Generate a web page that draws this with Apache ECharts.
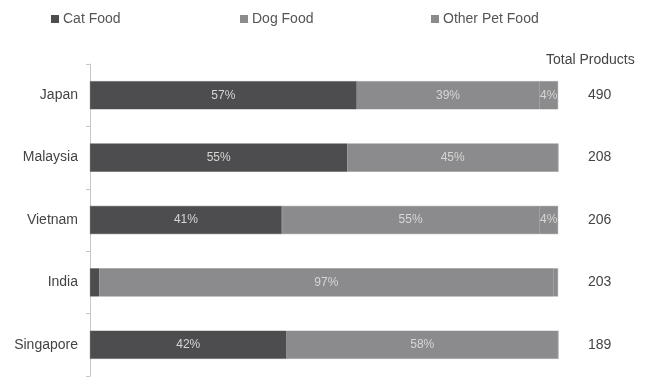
<!DOCTYPE html>
<html><head><meta charset="utf-8">
<script src="https://cdn.jsdelivr.net/npm/echarts@6/dist/echarts.min.js"></script>
<style>html,body{margin:0;padding:0;background:#fff}#c{width:648px;height:377px}</style>
</head><body><div id="c"></div>
<script>
const countries = ['Japan','Malaysia','Vietnam','India','Singapore'];
const catFood = [57,55,41,2,42];
const dogFood = [39,45,55,97,58];
const otherFood = [4,0,4,1,0];
const totals = ['490','208','206','203','189'];
const seriesNames = ['Cat Food','Dog Food','Other Pet Food'];
const colors = ['#4d4d4f','#8b8b8d','#8b8b8d'];
const font = 'Liberation Sans, Arial, sans-serif';

const chart = echarts.init(document.getElementById('c'));
function mk(name, data, color, minLabel) {
  return {
    name, type: 'bar', stack: 't', data, barCategoryGap: '55%',
    itemStyle: {color, borderColor: color, borderWidth: 0.5},
    label: {
      show: true, position: 'inside', color: '#d6d6d6', fontSize: 12, fontFamily: font,
      formatter: p => (p.value >= minLabel ? p.value + '%' : '')
    },
    emphasis: {disabled: true}
  };
}
const legendBase = {top: 7, itemWidth: 6, itemHeight: 6, icon: 'rect',
  textStyle: {color: '#555', fontSize: 14, fontFamily: font}};
chart.setOption({
  animation: false,
  legend: [
    Object.assign({left: 46, data: [seriesNames[0]]}, legendBase),
    Object.assign({left: 235, data: [seriesNames[1]]}, legendBase),
    Object.assign({left: 426, data: [seriesNames[2]]}, legendBase)
  ],
  grid: {left: 90, right: 90, top: 64, bottom: 1},
  xAxis: {type: 'value', min: 0, max: 100, show: false},
  yAxis: [
    {type: 'category', data: countries, inverse: true,
     axisLine: {show: true, lineStyle: {color: '#c8c8c8'}},
     axisTick: {show: true, length: 4, lineStyle: {color: '#c8c8c8'}},
     axisLabel: {color: '#444', fontSize: 14, fontFamily: font, margin: 12}},
    {type: 'category', data: totals, inverse: true, position: 'right',
     axisLine: {show: false}, axisTick: {show: false},
     axisLabel: {color: '#444', fontSize: 14, fontFamily: font, margin: 30}}
  ],
  graphic: [{type: 'text', left: 546, top: 53,
    style: {text: 'Total Products', fill: '#444', fontSize: 14, fontFamily: font}}],
  series: [
    mk(seriesNames[0], catFood, colors[0], 5),
    mk(seriesNames[1], dogFood, colors[1], 5),
    mk(seriesNames[2], otherFood, colors[2], 3)
  ]
});
</script></body></html>
